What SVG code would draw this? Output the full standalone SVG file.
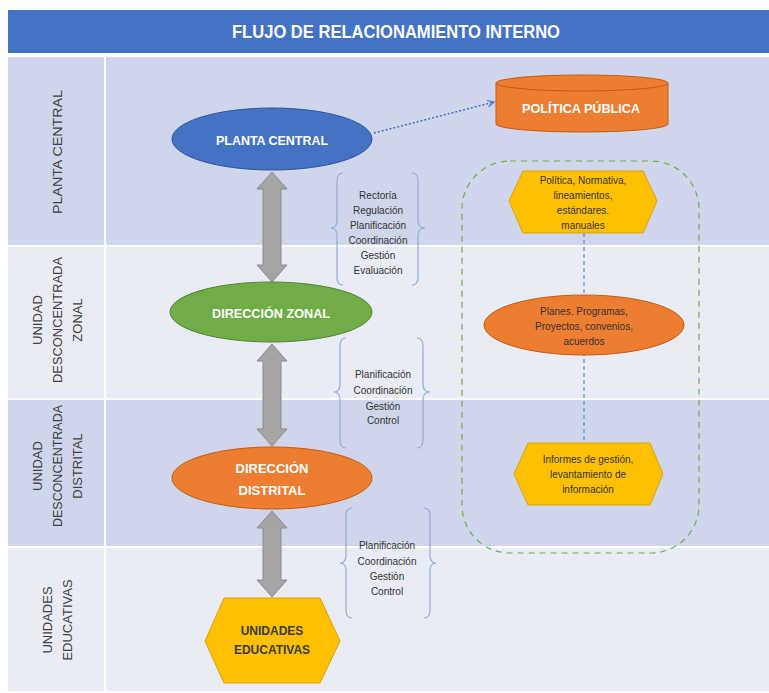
<svg xmlns="http://www.w3.org/2000/svg" width="769" height="693" viewBox="0 0 769 693">
<style>
text{font-family:"Liberation Sans",Arial,sans-serif}
.lane-d{fill:#CFD5EA}
.lane-l{fill:#E9EBF5}
.lanelbl{font-size:13px;fill:#404040;text-anchor:middle}
.nodelbl{font-size:13px;font-weight:bold;fill:#FFFFFF;text-anchor:middle}
.darklbl{font-size:12px;font-weight:bold;fill:#3A3A3A;text-anchor:middle}
.small{font-size:10px;fill:#333333;text-anchor:middle}
.brace{fill:none;stroke:#8FAADC;stroke-width:1.2}
.dbl{fill:#A5A5A5;stroke:#8C8C8C;stroke-width:1}
</style>
<defs>
<marker id="openArrow" viewBox="0 0 10 10" refX="9" refY="5" markerWidth="8" markerHeight="8" orient="auto" markerUnits="userSpaceOnUse">
<path d="M1,1 L9,5 L1,9" fill="none" stroke="#4472C4" stroke-width="1.5"/>
</marker>
</defs>
<rect width="769" height="693" fill="#FFFFFF"/>
<g id="title">
<rect x="8" y="10" width="761" height="43" fill="#4472C4"/>
<text x="396" y="38" font-size="18" font-weight="bold" fill="#FFFFFF" text-anchor="middle" textLength="328" lengthAdjust="spacingAndGlyphs">FLUJO DE RELACIONAMIENTO INTERNO</text>
</g>
<g id="lanes">
<rect class="lane-d" x="8" y="57" width="761" height="189"/>
<rect class="lane-l" x="8" y="246" width="761" height="153"/>
<rect class="lane-d" x="8" y="399" width="761" height="148"/>
<rect class="lane-l" x="8" y="547" width="761" height="144"/>
<g stroke="#FFFFFF" stroke-width="2">
<line x1="105" y1="57" x2="105" y2="691"/>
<line x1="8" y1="246" x2="769" y2="246"/>
<line x1="8" y1="399" x2="769" y2="399"/>
<line x1="8" y1="547" x2="769" y2="547"/>
</g>
<text class="lanelbl" transform="translate(62,152) rotate(-90)" textLength="124" lengthAdjust="spacingAndGlyphs">PLANTA CENTRAL</text>
<text class="lanelbl" transform="translate(42,320) rotate(-90)">UNIDAD</text>
<text class="lanelbl" transform="translate(62,320) rotate(-90)" textLength="126" lengthAdjust="spacingAndGlyphs">DESCONCENTRADA</text>
<text class="lanelbl" transform="translate(82,320) rotate(-90)">ZONAL</text>
<text class="lanelbl" transform="translate(42,466) rotate(-90)">UNIDAD</text>
<text class="lanelbl" transform="translate(62,466) rotate(-90)" textLength="122" lengthAdjust="spacingAndGlyphs">DESCONCENTRADA</text>
<text class="lanelbl" transform="translate(82,466) rotate(-90)">DISTRITAL</text>
<text class="lanelbl" transform="translate(52,620) rotate(-90)">UNIDADES</text>
<text class="lanelbl" transform="translate(72,620) rotate(-90)">EDUCATIVAS</text>
</g>
<g id="group-box">
<rect x="462" y="161" width="237" height="392" rx="48" ry="48" fill="none" stroke="#70AD47" stroke-width="1.2" stroke-dasharray="6,5"/>
</g>
<g id="connectors">
<line x1="584" y1="233" x2="584" y2="443" stroke="#4472C4" stroke-width="1" stroke-dasharray="4,3"/>
<path d="M374,133 L494,102" fill="none" stroke="#4472C4" stroke-width="1.5" stroke-dasharray="2,2" marker-end="url(#openArrow)"/>
<path class="dbl" d="M272,172 L287,189 L281,189 L281,265 L287,265 L272,282 L257,265 L263,265 L263,189 L257,189 Z"/>
<path class="dbl" d="M272,344 L287,361 L281,361 L281,429 L287,429 L272,446 L257,429 L263,429 L263,361 L257,361 Z"/>
<path class="dbl" d="M272,511 L287,528 L281,528 L281,580 L287,580 L272,597 L257,580 L263,580 L263,528 L257,528 Z"/>
</g>
<g id="brace-1">
<path class="brace" d="M343,173 Q337,173 337,181 L337,220 Q337,228 331,228 Q337,228 337,236 L337,277 Q337,285 343,285"/>
<path class="brace" d="M412,173 Q418,173 418,181 L418,220 Q418,228 425,228 Q418,228 418,236 L418,277 Q418,285 412,285"/>
<text class="small" x="378" y="198.5">Rectoría</text>
<text class="small" x="378" y="213.5">Regulación</text>
<text class="small" x="378" y="228.5">Planificación</text>
<text class="small" x="378" y="243.5">Coordinación</text>
<text class="small" x="378" y="259">Gestión</text>
<text class="small" x="378" y="273.5">Evaluación</text>
</g>
<g id="brace-2">
<path class="brace" d="M346,338 Q340,338 340,346 L340,384 Q340,392 334,392 Q340,392 340,400 L340,440 Q340,448 346,448"/>
<path class="brace" d="M417,338 Q423,338 423,346 L423,384 Q423,392 430,392 Q423,392 423,400 L423,440 Q423,448 417,448"/>
<text class="small" x="383" y="377.5">Planificación</text>
<text class="small" x="383" y="394">Coordinación</text>
<text class="small" x="383" y="409.5">Gestión</text>
<text class="small" x="383" y="423.5">Control</text>
</g>
<g id="brace-3">
<path class="brace" d="M352,508 Q346,508 346,516 L346,555 Q346,563 340,563 Q346,563 346,571 L346,610 Q346,618 352,618"/>
<path class="brace" d="M424,508 Q430,508 430,516 L430,555 Q430,563 436,563 Q430,563 430,571 L430,610 Q430,618 424,618"/>
<text class="small" x="387" y="548.5">Planificación</text>
<text class="small" x="387" y="564.5">Coordinación</text>
<text class="small" x="387" y="579.5">Gestión</text>
<text class="small" x="387" y="594.5">Control</text>
</g>
<g id="planta-central">
<ellipse cx="272" cy="139" rx="100" ry="31" fill="#4472C4" stroke="#2F5597" stroke-width="1"/>
<text class="nodelbl" x="272" y="144.5" textLength="112" lengthAdjust="spacingAndGlyphs">PLANTA CENTRAL</text>
</g>
<g id="direccion-zonal">
<ellipse cx="271" cy="312" rx="101" ry="30" fill="#70AD47" stroke="#548235" stroke-width="1"/>
<text class="nodelbl" x="271" y="317.5" textLength="118" lengthAdjust="spacingAndGlyphs">DIRECCIÓN ZONAL</text>
</g>
<g id="direccion-distrital">
<ellipse cx="272" cy="478" rx="100" ry="31" fill="#ED7D31" stroke="#C55A11" stroke-width="1"/>
<text class="nodelbl" x="272" y="472.5">DIRECCIÓN</text>
<text class="nodelbl" x="272" y="495">DISTRITAL</text>
</g>
<g id="unidades-educativas">
<polygon points="205,641 224,598 320,598 340,641 320,683 224,683" fill="#FFC000" stroke="#D9A300" stroke-width="1"/>
<text class="darklbl" x="272" y="635">UNIDADES</text>
<text class="darklbl" x="272" y="654">EDUCATIVAS</text>
</g>
<g id="politica-publica">
<path d="M496,83 L496,124 A86,8 0 0 0 668,124 L668,83" fill="#ED7D31" stroke="#C55A11" stroke-width="1"/>
<ellipse cx="582" cy="83" rx="86" ry="8" fill="#ED7D31" stroke="#C55A11" stroke-width="1"/>
<text class="nodelbl" x="581" y="113" textLength="118" lengthAdjust="spacingAndGlyphs">POLÍTICA PÚBLICA</text>
</g>
<g id="politica-normativa">
<polygon points="509,201 523,171 643,171 657,201 643,233 523,233" fill="#FFC000" stroke="#D9A300" stroke-width="1"/>
<text class="small" x="583" y="183.5">Política, Normativa,</text>
<text class="small" x="583" y="198.5">lineamientos,</text>
<text class="small" x="583" y="214">estándares.</text>
<text class="small" x="583" y="229">manuales</text>
</g>
<g id="planes-programas">
<ellipse cx="584" cy="325" rx="100" ry="30" fill="#ED7D31" stroke="#C55A11" stroke-width="1"/>
<text class="small" x="584" y="314.5">Planes. Programas,</text>
<text class="small" x="584" y="329.5">Proyectos, convenios,</text>
<text class="small" x="584" y="344.5">acuerdos</text>
</g>
<g id="informes-gestion">
<polygon points="514,474 528,443 650,443 663,474 650,505 528,505" fill="#FFC000" stroke="#D9A300" stroke-width="1"/>
<text class="small" x="588" y="462.5">Informes de gestión,</text>
<text class="small" x="588" y="477.5">levantamiento de</text>
<text class="small" x="588" y="493">información</text>
</g>
</svg>
